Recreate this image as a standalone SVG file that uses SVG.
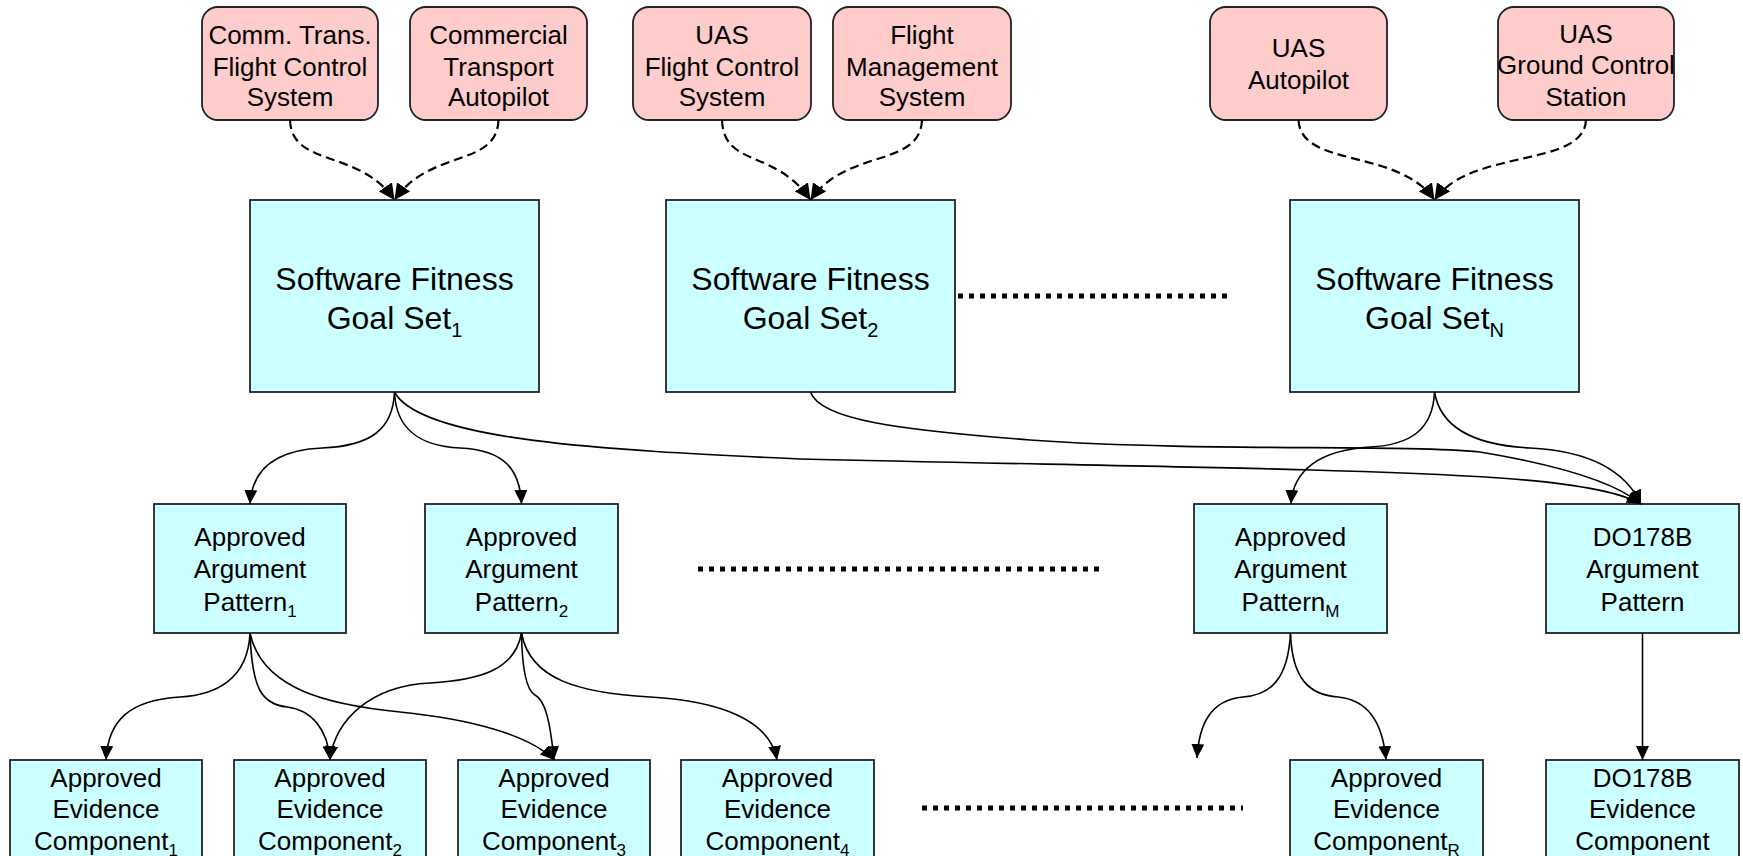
<svg xmlns="http://www.w3.org/2000/svg" width="1743" height="856" viewBox="0 0 1743 856">
  <style>
    .sys rect { fill: #FFCCCC; stroke: #222; stroke-width: 1.8; }
    .blk rect { fill: #CCFFFF; stroke: #222; stroke-width: 1.8; }
    text { font-family: "Liberation Sans", Arial, sans-serif; fill: #000; text-anchor: middle; }
    .t26 { font-size: 26px; }
    .t32 { font-size: 32px; }
    .sub17 { font-size: 17px; }
    .sub20 { font-size: 20px; }
    .dash { fill: none; stroke: #000; stroke-width: 2.2; stroke-dasharray: 9 5; marker-end: url(#ah-big); }
    .link { fill: none; stroke: #000; stroke-width: 1.6; marker-end: url(#ah); }
    .dots { fill: none; stroke: #000; stroke-width: 5; stroke-dasharray: 5 6; }
  </style>
  <defs>
    <marker id="ah" viewBox="0 0 14 13" refX="14" refY="6.5" markerWidth="14" markerHeight="13" markerUnits="userSpaceOnUse" orient="auto">
      <path d="M0,0 L14,6.5 L0,13 z" fill="#000"/>
    </marker>
    <marker id="ah-big" viewBox="0 0 16 16" refX="16" refY="8" markerWidth="16" markerHeight="16" markerUnits="userSpaceOnUse" orient="auto">
      <path d="M0,0 L16,8 L0,16 z" fill="#000"/>
    </marker>
  </defs>

  <!-- system boxes (top row) -->
  <g id="sys-ct-fcs" class="sys">
    <rect x="202" y="7" width="176" height="113" rx="16"/>
    <text class="t26"><tspan x="290" y="43.5">Comm. Trans.</tspan><tspan x="290" y="75.5">Flight Control</tspan><tspan x="290" y="106">System</tspan></text>
  </g>
  <g id="sys-ct-autopilot" class="sys">
    <rect x="410" y="7" width="177" height="113" rx="16"/>
    <text class="t26"><tspan x="498.5" y="43.5">Commercial</tspan><tspan x="498.5" y="75.5">Transport</tspan><tspan x="498.5" y="106">Autopilot</tspan></text>
  </g>
  <g id="sys-uas-fcs" class="sys">
    <rect x="633" y="7" width="178" height="113" rx="16"/>
    <text class="t26"><tspan x="722" y="43.5">UAS</tspan><tspan x="722" y="75.5">Flight Control</tspan><tspan x="722" y="106">System</tspan></text>
  </g>
  <g id="sys-fms" class="sys">
    <rect x="833" y="7" width="178" height="113" rx="16"/>
    <text class="t26"><tspan x="922" y="43.5">Flight</tspan><tspan x="922" y="75.5">Management</tspan><tspan x="922" y="106">System</tspan></text>
  </g>
  <g id="sys-uas-autopilot" class="sys">
    <rect x="1210" y="7" width="177" height="113" rx="16"/>
    <text class="t26"><tspan x="1298.5" y="57">UAS</tspan><tspan x="1298.5" y="89">Autopilot</tspan></text>
  </g>
  <g id="sys-uas-gcs" class="sys">
    <rect x="1498" y="7" width="176" height="113" rx="16"/>
    <text class="t26"><tspan x="1586" y="42.5">UAS</tspan><tspan x="1586" y="74">Ground Control</tspan><tspan x="1586" y="106">Station</tspan></text>
  </g>

  <!-- goal sets -->
  <g id="goal-1" class="blk">
    <rect x="250" y="200" width="289" height="192"/>
    <text class="t32"><tspan x="394.5" y="290">Software Fitness</tspan><tspan x="394.5" y="329">Goal Set<tspan class="sub20" dy="8">1</tspan></tspan></text>
  </g>
  <g id="goal-2" class="blk">
    <rect x="666" y="200" width="289" height="192"/>
    <text class="t32"><tspan x="810.5" y="290">Software Fitness</tspan><tspan x="810.5" y="329">Goal Set<tspan class="sub20" dy="8">2</tspan></tspan></text>
  </g>
  <g id="goal-n" class="blk">
    <rect x="1290" y="200" width="289" height="192"/>
    <text class="t32"><tspan x="1434.5" y="290">Software Fitness</tspan><tspan x="1434.5" y="329">Goal Set<tspan class="sub20" dy="8">N</tspan></tspan></text>
  </g>

  <!-- argument patterns -->
  <g id="pattern-1" class="blk">
    <rect x="154" y="504" width="192" height="129"/>
    <text class="t26"><tspan x="250" y="546">Approved</tspan><tspan x="250" y="578">Argument</tspan><tspan x="250" y="611">Pattern<tspan class="sub17" dy="6">1</tspan></tspan></text>
  </g>
  <g id="pattern-2" class="blk">
    <rect x="425" y="504" width="193" height="129"/>
    <text class="t26"><tspan x="521.5" y="546">Approved</tspan><tspan x="521.5" y="578">Argument</tspan><tspan x="521.5" y="611">Pattern<tspan class="sub17" dy="6">2</tspan></tspan></text>
  </g>
  <g id="pattern-m" class="blk">
    <rect x="1194" y="504" width="193" height="129"/>
    <text class="t26"><tspan x="1290.5" y="546">Approved</tspan><tspan x="1290.5" y="578">Argument</tspan><tspan x="1290.5" y="611">Pattern<tspan class="sub17" dy="6">M</tspan></tspan></text>
  </g>
  <g id="pattern-do178b" class="blk">
    <rect x="1546" y="504" width="193" height="129"/>
    <text class="t26"><tspan x="1642.5" y="546">DO178B</tspan><tspan x="1642.5" y="578">Argument</tspan><tspan x="1642.5" y="611">Pattern</tspan></text>
  </g>

  <!-- evidence components (lower edge runs past the bottom of the sheet) -->
  <g id="evidence-1" class="blk">
    <rect x="10" y="760" width="192" height="120"/>
    <text class="t26"><tspan x="106" y="787">Approved</tspan><tspan x="106" y="818">Evidence</tspan><tspan x="106" y="850">Component<tspan class="sub17" dy="6">1</tspan></tspan></text>
  </g>
  <g id="evidence-2" class="blk">
    <rect x="234" y="760" width="192" height="120"/>
    <text class="t26"><tspan x="330" y="787">Approved</tspan><tspan x="330" y="818">Evidence</tspan><tspan x="330" y="850">Component<tspan class="sub17" dy="6">2</tspan></tspan></text>
  </g>
  <g id="evidence-3" class="blk">
    <rect x="458" y="760" width="192" height="120"/>
    <text class="t26"><tspan x="554" y="787">Approved</tspan><tspan x="554" y="818">Evidence</tspan><tspan x="554" y="850">Component<tspan class="sub17" dy="6">3</tspan></tspan></text>
  </g>
  <g id="evidence-4" class="blk">
    <rect x="681" y="760" width="193" height="120"/>
    <text class="t26"><tspan x="777.5" y="787">Approved</tspan><tspan x="777.5" y="818">Evidence</tspan><tspan x="777.5" y="850">Component<tspan class="sub17" dy="6">4</tspan></tspan></text>
  </g>
  <g id="evidence-r" class="blk">
    <rect x="1290" y="760" width="193" height="120"/>
    <text class="t26"><tspan x="1386.5" y="787">Approved</tspan><tspan x="1386.5" y="818">Evidence</tspan><tspan x="1386.5" y="850">Component<tspan class="sub17" dy="6">R</tspan></tspan></text>
  </g>
  <g id="evidence-do178b" class="blk">
    <rect x="1546" y="760" width="193" height="120"/>
    <text class="t26"><tspan x="1642.5" y="787">DO178B</tspan><tspan x="1642.5" y="818">Evidence</tspan><tspan x="1642.5" y="850">Component</tspan></text>
  </g>

  <!-- ellipsis rows -->
  <g id="ellipses">
    <path class="dots" d="M958,296 H1228"/>
    <path class="dots" d="M698,569 H1100"/>
    <path class="dots" d="M922,808 H1243"/>
  </g>

  <!-- connectors -->
  <g id="connectors">
    <!-- systems to goal sets (dashed) -->
    <path class="dash" d="M290,120 C292,168 358.5,148 394.5,200"/>
    <path class="dash" d="M498.5,120 C496.5,168 430.5,148 394.5,200"/>
    <path class="dash" d="M722,120 C724,168 774.5,148 810.5,200"/>
    <path class="dash" d="M922,120 C920,168 846.5,148 810.5,200"/>
    <path class="dash" d="M1298.5,120 C1300.5,168 1398.5,148 1434.5,200"/>
    <path class="dash" d="M1586,120 C1584,168 1470.5,148 1434.5,200"/>

    <!-- goal sets to argument patterns -->
    <path class="link" d="M394.5,392 C393,430 370,446 322,448 C275,450 252,470 250,504"/>
    <path class="link" d="M394.5,392 C396,430 420,446 460,448 C505,450 520,470 521.5,504"/>
    <path class="link" d="M394.5,392 C420,440 600,450 800,459 C1100,466 1350,468 1500,478 C1570,483 1620,492 1641,504"/>
    <path class="link" d="M810.5,392 C820,420 900,430 1030,440 C1200,452 1400,444 1480,452 C1540,462 1610,478 1641,504"/>
    <path class="link" d="M1434.5,392 C1433,430 1410,445 1370,447 C1320,450 1293,470 1291,504"/>
    <path class="link" d="M1434.5,392 C1440,425 1470,445 1530,448 C1590,451 1625,470 1641,504"/>

    <!-- argument patterns to evidence components -->
    <path class="link" d="M250,633 C248,680 215,695 180,697 C130,700 108,720 106,760"/>
    <path class="link" d="M250,633 C252,690 262,704 287,707 C312,710 328,730 330,760"/>
    <path class="link" d="M250,633 C262,690 330,705 400,712 C470,719 530,735 554,760"/>
    <path class="link" d="M521.5,633 C515,670 480,680 430,683 C370,686 335,720 330,760"/>
    <path class="link" d="M521.5,633 C522,665 526,690 535,695 C545,700 550,720 554,760"/>
    <path class="link" d="M521.5,633 C530,680 580,693 650,697 C720,701 770,720 777,760"/>
    <path class="link" d="M1290.5,633 C1288,680 1270,695 1243,697 C1210,700 1199,725 1197,758"/>
    <path class="link" d="M1290.5,633 C1292,680 1310,695 1338,697 C1370,700 1383,725 1386,760"/>
    <path class="link" d="M1642.5,633 L1642.5,760"/>
  </g>
</svg>
